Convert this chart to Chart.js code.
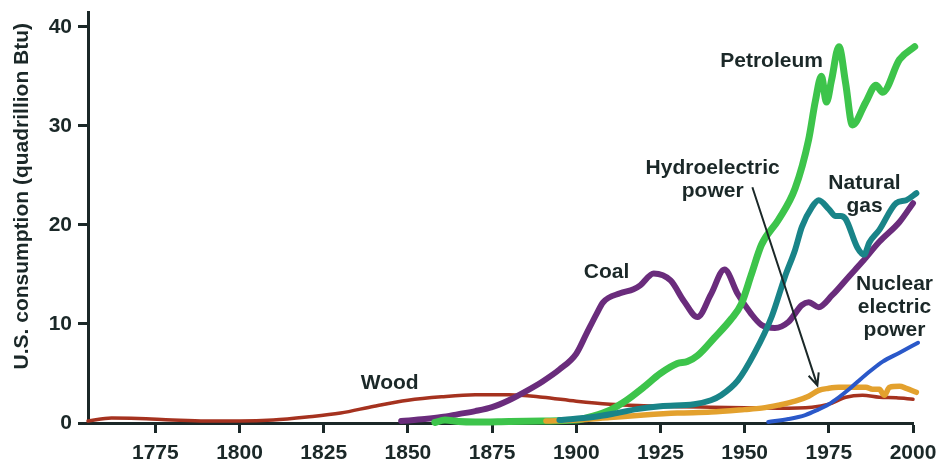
<!DOCTYPE html>
<html lang="en">
<head>
  <meta charset="UTF-8" />
  <title>U.S. energy consumption by source</title>
  <script src="https://cdn.jsdelivr.net/npm/chart.js"></script>
  <style>
    html, body { margin: 0; padding: 0; background: #fff; }
    #chart { display: block; }
  </style>
</head>
<body>
<canvas id="chart" width="937" height="462"></canvas>

<script>
  // values, quadrillion Btu
  const woodYears  = [1755, 1762, 1770, 1780, 1790, 1800, 1810, 1820, 1830, 1840, 1850, 1860, 1870, 1880, 1890, 1900, 1910, 1920, 1930, 1940, 1950, 1960, 1970, 1975, 1980, 1985, 1990, 1995, 2000];
  const woodValues = [0.2, 0.5, 0.45, 0.3, 0.2, 0.2, 0.3, 0.6, 1.0, 1.7, 2.3, 2.65, 2.85, 2.85, 2.6, 2.2, 1.9, 1.75, 1.65, 1.6, 1.55, 1.5, 1.6, 1.9, 2.6, 2.8, 2.6, 2.55, 2.4];

  const coalYears  = [1848, 1855, 1860, 1865, 1870, 1875, 1880, 1885, 1890, 1895, 1900, 1903, 1906, 1908, 1913, 1917, 1919, 1923, 1928, 1932, 1936, 1940, 1944, 1948, 1952, 1955, 1959, 1963, 1967, 1969, 1972, 1976, 1981, 1985, 1990, 1996, 2000];
  const coalValues = [0.2, 0.4, 0.6, 0.9, 1.2, 1.6, 2.3, 3.2, 4.2, 5.4, 7.0, 9.0, 11.0, 12.2, 13.1, 13.5, 13.9, 15.1, 14.4, 12.3, 10.7, 13.0, 15.5, 13.0, 11.0, 9.9, 9.6, 10.2, 11.9, 12.2, 11.7, 12.9, 14.8, 16.3, 18.3, 20.3, 22.2];

  const petroleumYears  = [1858, 1861, 1865, 1870, 1880, 1890, 1900, 1905, 1910, 1915, 1920, 1925, 1930, 1933, 1936, 1941, 1946, 1949, 1952, 1955, 1960, 1965, 1969, 1971, 1972.8, 1974.3, 1975.8, 1978, 1980, 1982, 1986, 1989, 1991, 1996, 2000.5];
  const petroleumValues = [0.05, 0.3, 0.15, 0.1, 0.15, 0.2, 0.3, 0.7, 1.3, 2.3, 3.6, 5.0, 6.0, 6.2, 6.8, 8.6, 10.5, 12.0, 15.0, 18.0, 20.5, 23.7, 28.6, 32.5, 35.0, 32.4, 34.6, 38.0, 34.3, 30.1, 32.4, 34.1, 33.4, 36.7, 38.0];

  const gasYears  = [1895, 1905, 1912, 1918, 1925, 1935, 1940, 1943, 1948, 1953, 1958, 1962, 1965, 1967, 1970, 1972, 1975, 1977, 1978.5, 1980, 1983.5, 1985.5, 1987, 1990, 1995, 1998, 2001];
  const gasValues = [0.3, 0.6, 1.0, 1.4, 1.7, 1.9, 2.3, 2.8, 4.3, 7.1, 10.7, 14.8, 17.5, 19.8, 21.8, 22.5, 21.6, 20.9, 20.9, 20.6, 17.7, 17.0, 18.2, 19.5, 22.2, 22.5, 23.2];

  const hydroYears  = [1891, 1900, 1910, 1920, 1930, 1940, 1950, 1955, 1960, 1965, 1969, 1972, 1975, 1978, 1983, 1986, 1988, 1990, 1991.5, 1993, 1996, 1998, 2001];
  const hydroValues = [0.2, 0.3, 0.55, 0.8, 1.0, 1.1, 1.35, 1.5, 1.8, 2.2, 2.7, 3.3, 3.5, 3.6, 3.6, 3.6, 3.4, 3.4, 2.8, 3.6, 3.7, 3.5, 3.1];

  const nuclearYears  = [1957, 1963, 1968, 1971.5, 1975, 1978, 1981, 1984, 1987.5, 1991, 1996, 2001.5];
  const nuclearValues = [0.1, 0.4, 0.8, 1.3, 1.9, 2.6, 3.4, 4.3, 5.3, 6.2, 7.1, 8.1];

  const xTicks = [1775, 1800, 1825, 1850, 1875, 1900, 1925, 1950, 1975, 2000];
  const yTicks = [0, 10, 20, 30, 40];

  const ink = '#1b2828';
  const fontFamily = '"Liberation Sans", Arial, sans-serif';

  // series names, placed in data coordinates
  const notes = [
    { lines: ['Petroleum'], year: 1958, value: 36.5 },
    { lines: ['Hydroelectric', 'power'], year: 1940.5, value: 24.6 },
    { lines: ['Natural', 'gas'], year: 1985.6, value: 23.1 },
    { lines: ['Coal'], year: 1909, value: 15.2 },
    { lines: ['Wood'], year: 1844.6, value: 4.0 },
    { lines: ['Nuclear', 'electric', 'power'], year: 1994.5, value: 11.7 }
  ];
  const arrowFrom = { year: 1952.3, value: 23.8 };
  const arrowTo = { year: 1971.6, value: 3.8 };

  const pts = (xs, ys) => xs.map((x, i) => ({ x: x, y: ys[i] }));

  function series(data, color, width) {
    return {
      data: data,
      borderColor: color,
      borderWidth: width,
      pointRadius: 0,
      cubicInterpolationMode: 'monotone',
      borderCapStyle: 'round',
      borderJoinStyle: 'round',
      clip: false,
      fill: false
    };
  }

  const annotations = {
    id: 'annotations',
    afterDatasetsDraw(chart) {
      const { ctx, scales: { x, y } } = chart;
      ctx.save();
      ctx.fillStyle = ink;
      ctx.strokeStyle = ink;
      ctx.font = 'bold 21px ' + fontFamily;
      ctx.textAlign = 'center';
      ctx.textBaseline = 'middle';
      const gap = 23;
      notes.forEach(n => {
        const cx = x.getPixelForValue(n.year);
        const cy = y.getPixelForValue(n.value);
        const top = cy - (n.lines.length - 1) * gap / 2;
        n.lines.forEach((t, i) => ctx.fillText(t, cx, top + i * gap));
      });

      // arrow from hydro label to its line
      const x0 = x.getPixelForValue(arrowFrom.year), y0 = y.getPixelForValue(arrowFrom.value);
      const x1 = x.getPixelForValue(arrowTo.year), y1 = y.getPixelForValue(arrowTo.value);
      const ang = Math.atan2(y1 - y0, x1 - x0);
      ctx.lineWidth = 2;
      ctx.beginPath();
      ctx.moveTo(x0, y0);
      ctx.lineTo(x1, y1);
      ctx.moveTo(x1 - 13 * Math.cos(ang - 0.42), y1 - 13 * Math.sin(ang - 0.42));
      ctx.lineTo(x1, y1);
      ctx.lineTo(x1 - 13 * Math.cos(ang + 0.42), y1 - 13 * Math.sin(ang + 0.42));
      ctx.stroke();

      // y axis title
      ctx.translate(22, y.getPixelForValue(22.9));
      ctx.rotate(-Math.PI / 2);
      ctx.font = 'bold 21px ' + fontFamily;
      ctx.fillText('U.S. consumption (quadrillion Btu)', 0, 0);
      ctx.restore();
    }
  };

  new Chart(document.getElementById('chart').getContext('2d'), {
    type: 'line',
    data: {
      datasets: [
        series(pts(nuclearYears, nuclearValues), '#2a58c9', 4),
        series(pts(gasYears, gasValues), '#198488', 6),
        series(pts(hydroYears, hydroValues), '#e3a12e', 5.5),
        series(pts(petroleumYears, petroleumValues), '#3dc44b', 7),
        series(pts(coalYears, coalValues), '#6a2c7c', 6),
        series(pts(woodYears, woodValues), '#a5321f', 3.5)
      ]
    },
    options: {
      responsive: false,
      devicePixelRatio: 1,
      animation: false,
      layout: { padding: { top: 12, right: 24, left: 0, bottom: 0 } },
      plugins: {
        legend: { display: false },
        tooltip: { enabled: false }
      },
      scales: {
        x: {
          type: 'linear',
          min: 1755,
          max: 2000,
          afterBuildTicks: s => { s.ticks = xTicks.map(v => ({ value: v })); },
          afterFit: s => { s.height = 39; s.paddingLeft = 0; s.paddingRight = 0; },
          border: { display: true, color: ink, width: 3 },
          grid: { drawOnChartArea: false, drawTicks: true, tickLength: 10, tickWidth: 3, color: ink },
          ticks: {
            color: ink,
            font: { family: fontFamily, size: 21, weight: 'bold' },
            padding: 8,
            maxRotation: 0,
            autoSkip: false,
            callback: v => String(v)
          }
        },
        y: {
          min: 0,
          max: 41.5,
          afterBuildTicks: s => { s.ticks = yTicks.map(v => ({ value: v })); },
          afterFit: s => { s.width = 88; s.paddingTop = 0; s.paddingBottom = 0; },
          border: { display: true, color: ink, width: 3 },
          grid: { drawOnChartArea: false, drawTicks: true, tickLength: 10, tickWidth: 3, color: ink },
          ticks: {
            color: ink,
            font: { family: fontFamily, size: 21, weight: 'bold' },
            padding: 6,
            callback: v => String(v)
          }
        }
      }
    },
    plugins: [annotations]
  });
</script>
</body>
</html>
